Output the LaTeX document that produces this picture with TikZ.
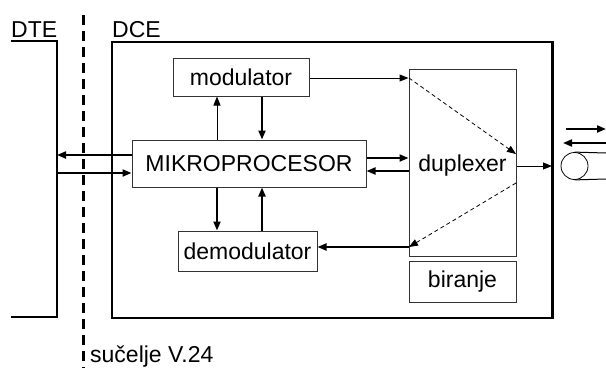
\documentclass[tikz,border=0pt]{standalone}
\usepackage{fontspec}
\setmainfont{Liberation Sans}
\usetikzlibrary{arrows.meta}
\begin{document}
\begin{tikzpicture}[x=1pt,y=-1pt,
  lbl/.style={font=\fontsize{23}{26}\selectfont, inner sep=0pt},
  blk/.style={draw=black!80, line width=1pt, inner sep=0pt, font=\fontsize{23}{26}\selectfont},
  tip/.style={-{Triangle[length=9pt,width=7pt]}},
  thin/.style={tip, line width=1pt},
  thick/.style={tip, line width=2pt},
  dsh/.style={-{Triangle[length=9pt,width=7pt]}, line width=0.8pt, dash pattern=on 4pt off 3pt}]
\useasboundingbox (0,0) rectangle (606,368);

% DTE side
\node[lbl, anchor=base west] (dte) at (11,37) {DTE};
\draw[line width=2pt] (11,41) -- (57,41) -- (57,317) -- (11,317);

% interface line
\draw[line width=3pt, dash pattern=on 10pt off 6pt] (83,15) -- (83,368);
\node[lbl, anchor=base west] (v24) at (90,362) {sučelje V.24};

% DCE enclosure
\node[lbl, anchor=base west] (dce) at (112,37) {DCE};
\draw[line width=2pt] (552,42) -- (112,42) -- (112,318) -- (552,318);
\draw[line width=3pt] (552,41) -- (552,319);

% blocks
\node[blk, minimum width=136pt, minimum height=38pt] (mod) at (241,77) {modulator};
\node[blk, minimum width=234pt, minimum height=47pt] (mp) at (249,163.5) {MIKROPROCESOR};
\node[blk, minimum width=139pt, minimum height=40pt] (dem) at (247.5,251) {demodulator};
\node[blk, minimum width=107pt, minimum height=187pt] (dup) at (462.5,162.5) {};
\node[lbl] (duptxt) at (462.5,166) {duplexer};
\node[blk, minimum width=107pt, minimum height=41pt] (bir) at (462.5,281.5) {biranje};

% processor <-> modulator / demodulator
\draw[thin] (mp.north -| 217,0) -- (mod.south -| 217,0);
\draw[thick] (mod.south -| 262,0) -- (mp.north -| 262,0);
\draw[thick] (mp.south -| 217,0) -- (dem.north -| 217,0);
\draw[thick] (dem.north -| 262,0) -- (mp.south -| 262,0);

% processor <-> DTE
\draw[thick] (mp.west |- 0,155) -- (57,155);
\draw[thick] (57,173) -- (mp.west |- 0,173);

% processor <-> duplexer
\draw[thick] (mp.east |- 0,158) -- (dup.west |- 0,158);
\draw[thick] (dup.west |- 0,171) -- (mp.east |- 0,171);

% modulator -> duplexer, demodulator <- duplexer
\draw[thin] (mod.east |- 0,78) -- (dup.west |- 0,78);
\draw[thick] (dup.west |- 0,247) -- (dem.east |- 0,247);

% internal paths of the duplexer
\coordinate (dA) at (409,78);
\coordinate (dB) at (516,154);
\coordinate (dC) at (516,183);
\coordinate (dD) at (409,247);
\draw[dsh] (dA) -- (dB);
\draw[dsh] (dC) -- (dD);

% duplexer -> line
\draw[thin] (dup.east |- 0,166) -- (552,166);

% line termination
\node[draw, circle, line width=0.8pt, minimum size=27pt, inner sep=0pt] (ring) at (574.5,166) {};
\draw[line width=1pt] (ring.north) -- (606,153);
\draw[line width=1pt] (ring.south) -- (606,179);
\coordinate (txA) at (566,129);
\coordinate (txB) at (606,129);
\coordinate (rxA) at (606,143);
\coordinate (rxB) at (563,143);
\draw[thick] (txA) -- (txB);
\draw[thick] (rxA) -- (rxB);
\end{tikzpicture}
\end{document}
